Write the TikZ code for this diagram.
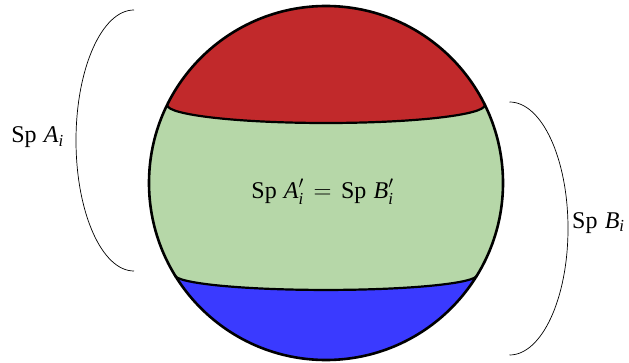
\documentclass[tikz,border=0pt]{standalone}
\usepackage{amsmath}
\usepackage{fontspec}
\setmainfont{Liberation Serif}
\definecolor{capred}{RGB}{193,41,43}
\definecolor{bandgreen}{RGB}{182,215,168}
\definecolor{capblue}{RGB}{58,58,255}
\begin{document}
\begin{tikzpicture}[x=1pt,y=1pt,
  outline/.style={draw=black,line width=2.6pt},
  seam/.style={draw=black,line width=2.2pt},
  bracket/.style={draw=black,line width=0.7pt},
  lbl/.style={inner sep=0pt,font=\fontsize{24}{28}\selectfont}]
\useasboundingbox (0,0) rectangle (629,362);
\coordinate (C) at (326,179);
% whole sphere green
\fill[bandgreen] (C) circle[radius=177];
% red cap
\fill[capred] (C) ++(26.15:177) arc[start angle=26.15, end angle=153.85, radius=177]
  arc[start angle=180, end angle=360, x radius=158.9, y radius=18] -- cycle;
% blue cap
\fill[capblue] (C) ++(211.3:177) arc[start angle=180, end angle=360, x radius=151.2, y radius=15]
  arc[start angle=-31.3, end angle=-148.7, radius=177] -- cycle;
% seams
\draw[seam] (C) ++(153.85:177) arc[start angle=180, end angle=360, x radius=158.9, y radius=18];
\draw[seam] (C) ++(211.3:177) arc[start angle=180, end angle=360, x radius=151.2, y radius=15];
% outline
\draw[outline] (C) circle[radius=177];
% brackets
\coordinate (LT) at (134,352);
\coordinate (RT) at (509.5,260);
\draw[bracket] (LT) arc[start angle=90, end angle=270, x radius=58, y radius=130.5];
\draw[bracket] (RT) arc[start angle=90, end angle=-90, x radius=58.5, y radius=126.5];
% labels
\node[lbl,anchor=base east] (la) at (64,219) {Sp\hspace{0.3em}\textit{A}$_{\textit{i}}$};
\node[lbl,anchor=base west] (lb) at (572,134) {Sp\hspace{0.3em}\textit{B}$_{\textit{i}}$};
\node[lbl,anchor=base] (lm) at (322.5,164) {Sp\hspace{0.3em}\textit{A}$'_{\textit{i}}$\hspace{0.4em}$=$\hspace{0.4em}Sp\hspace{0.3em}\textit{B}$'_{\textit{i}}$};
\end{tikzpicture}
\end{document}
